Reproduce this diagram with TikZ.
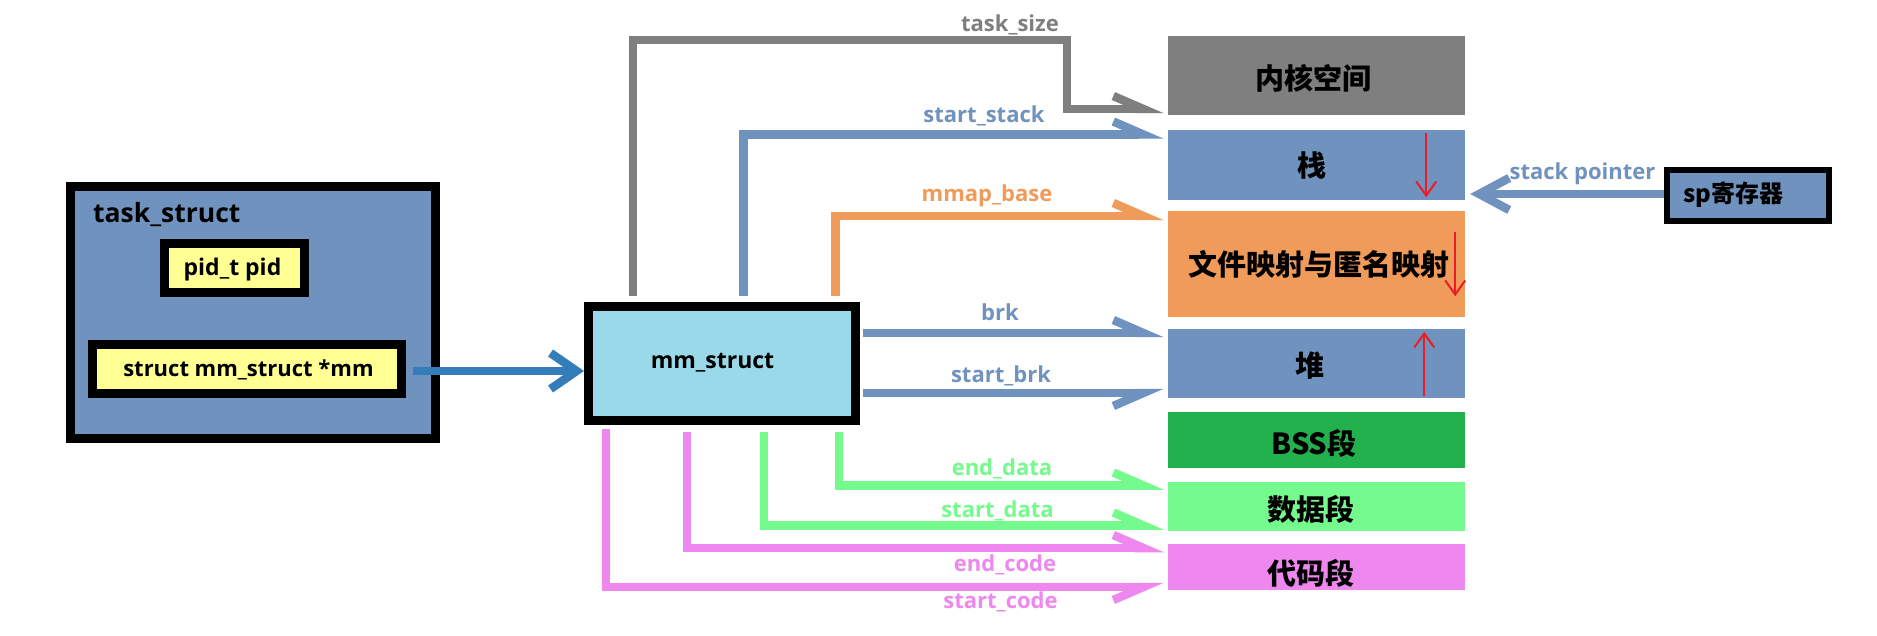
\documentclass[tikz,border=0pt]{standalone}
\usepackage{fontspec}
\setmainfont{Open Sans}
\newfontfamily\cjk{Noto Sans CJK SC}
\usetikzlibrary{arrows.meta}
\definecolor{cblue}{HTML}{7092BE}
\definecolor{cyel}{HTML}{FFFF93}
\definecolor{cturq}{HTML}{99D9EA}
\definecolor{cgray}{HTML}{7F7F7F}
\definecolor{corange}{HTML}{F09B59}
\definecolor{cgreen}{HTML}{22B14C}
\definecolor{clgreen}{HTML}{75FA8D}
\definecolor{cviolet}{HTML}{EE88EE}
\definecolor{cdblue}{HTML}{347DBA}
\definecolor{cred}{HTML}{ED1C24}
\begin{document}
\begin{tikzpicture}[x=1pt,y=-1pt,
  bbox/.style={draw=black, line width=9pt, inner sep=0pt},
  seg/.style={fill=#1, draw=none, inner sep=0pt, minimum width=297pt},
  conn/.style={draw=#1, line width=8.5pt, -{Straight Barb[harpoon,length=30pt,width=26pt]}},
  connsw/.style={draw=#1, line width=8.5pt, -{Straight Barb[harpoon,swap,length=30pt,width=26pt]}},
  txt/.style={anchor=base, inner sep=0pt, font=\bfseries\fontsize{23}{27}\selectfont},
  cjktxt/.style={anchor=base, inner sep=0pt, font=\cjk\bfseries\fontsize{29}{34}\selectfont},
  lbl/.style={anchor=base, inner sep=0pt, font=\bfseries\fontsize{22}{26}\selectfont, text=#1},
  redarr/.style={draw=cred, line width=2pt, -{Straight Barb[length=14pt,width=20pt]}}
]
\useasboundingbox (0,0) rectangle (1877,636);
\fill[white] (0,0) rectangle (1877,636);

% task_struct
\node[bbox, fill=cblue, minimum width=365pt, minimum height=252pt] (task) at (253,312.5) {};
\node[txt, anchor=base west, font=\bfseries\fontsize{26.5}{30}\selectfont] (taskt) at (93,223) {task\_struct};
\node[bbox, fill=cyel, minimum width=140pt, minimum height=49pt] (pid) at (234.5,268) {};
\node[txt] (pidt) at (232.5,276) {pid\_t pid};
\node[bbox, fill=cyel, minimum width=309pt, minimum height=49pt] (mmp) at (247,369) {};
\node[txt, font=\bfseries\fontsize{22}{26}\selectfont] (mmpt) at (248.5,377) {struct mm\_struct *mm};

% mm_struct
\node[bbox, fill=cturq, minimum width=267pt, minimum height=114pt] (mm) at (722,363.5) {};
\node[txt] (mmt) at (712.5,368) {mm\_struct};

% memory layout
\node[seg=cgray, minimum height=79pt] (kern) at (1316.5,75.5) {};
\node[seg=cblue, minimum height=70pt] (stack) at (1316.5,165) {};
\node[seg=corange, minimum height=106pt] (mmap) at (1316.5,264) {};
\node[seg=cblue, minimum height=69pt] (heap) at (1316.5,363.5) {};
\node[seg=cgreen, minimum height=56pt] (bss) at (1316.5,440) {};
\node[seg=clgreen, minimum height=49pt] (data) at (1316.5,506.5) {};
\node[seg=cviolet, minimum height=46pt] (code) at (1316.5,567) {};

\node[cjktxt] (kernt) at (1313.5,90) {内核空间};
\node[cjktxt] (stackt) at (1312,177) {栈};
\node[cjktxt] (mmapt) at (1318.5,276) {文件映射与匿名映射};
\node[cjktxt] (heapt) at (1310,376) {堆};
\node[cjktxt] (bsst) at (1314,454) {BSS段};
\node[cjktxt] (datat) at (1311,520) {数据段};
\node[cjktxt] (codet) at (1310.5,584) {代码段};

% sp register
\node[bbox, line width=6pt, fill=cblue, minimum width=162pt, minimum height=51pt] (sp) at (1748,195.5) {};
\node[cjktxt, anchor=base west, font=\cjk\bfseries\fontsize{24}{28}\selectfont] (spt) at (1683,203) {sp寄存器};

% red growth arrows
\draw[redarr] ([xshift=-39pt,yshift=-3pt]stack.north east) -- ([xshift=-39pt,yshift=3pt]stack.south east);
\draw[redarr] ([xshift=-10pt,yshift=-21pt]mmap.north east) -- ([xshift=-10pt,yshift=21pt]mmap.south east);
\draw[redarr] ([xshift=-41pt,yshift=2pt]heap.south east) -- ([xshift=-41pt,yshift=-3pt]heap.north east);

% main arrows
\draw[line width=8.5pt, draw=cdblue, -{Straight Barb[length=26pt,width=36pt]}] ([xshift=7pt,yshift=-2pt]mmp.east) -- ([yshift=-7.5pt]mm.west);
\draw[line width=8.5pt, draw=cblue, -{Straight Barb[length=30pt,width=32pt]}] ([yshift=1.5pt]sp.west) -- ([xshift=5pt,yshift=-29pt]stack.east);

% connectors
\draw[conn=cgray] ([xshift=49pt,yshift=6pt]mm.north west) |- ++(434,-256) |- ([xshift=-4pt,yshift=-33.5pt]kern.west);
\draw[conn=cblue] ([xshift=159.5pt,yshift=6pt]mm.north west) |- ([xshift=-4pt,yshift=30.5pt]stack.west);
\draw[conn=corange] ([xshift=251.5pt,yshift=6pt]mm.north west) |- ([xshift=-4pt,yshift=48pt]mmap.west);
\draw[conn=cblue] ([xshift=3pt,yshift=30.5pt]mm.east) -- ([xshift=-4pt,yshift=30.5pt]heap.west);
\draw[connsw=cblue] ([xshift=3pt,yshift=-29.5pt]mm.east) -- ([xshift=-4pt,yshift=-29.5pt]heap.west);
\draw[conn=clgreen] ([xshift=255pt,yshift=-7pt]mm.south west) |- ([xshift=-4pt,yshift=21pt]data.west);
\draw[conn=clgreen] ([xshift=180pt,yshift=-7pt]mm.south west) |- ([xshift=-4pt,yshift=-19pt]data.west);
\draw[conn=cviolet] ([xshift=103pt,yshift=-7pt]mm.south west) |- ([xshift=-4pt,yshift=19pt]code.west);
\draw[connsw=cviolet] ([xshift=22pt,yshift=-4pt]mm.south west) |- ([xshift=-4pt,yshift=-20pt]code.west);

% labels
\node[lbl=cgray] (l1) at (1010,32) {task\_size};
\node[lbl=cblue] (l2) at (984,123) {start\_stack};
\node[lbl=corange] (l3) at (987,202) {mmap\_base};
\node[lbl=cblue] (l4) at (1000,321) {brk};
\node[lbl=cblue] (l5) at (1001,382) {start\_brk};
\node[lbl=clgreen] (l6) at (1002,475) {end\_data};
\node[lbl=clgreen] (l7) at (997.5,517) {start\_data};
\node[lbl=cviolet] (l8) at (1005,571) {end\_code};
\node[lbl=cviolet] (l9) at (1000.5,608) {start\_code};
\node[lbl=cblue] (l10) at (1582.5,180) {stack pointer};
\end{tikzpicture}
\end{document}
